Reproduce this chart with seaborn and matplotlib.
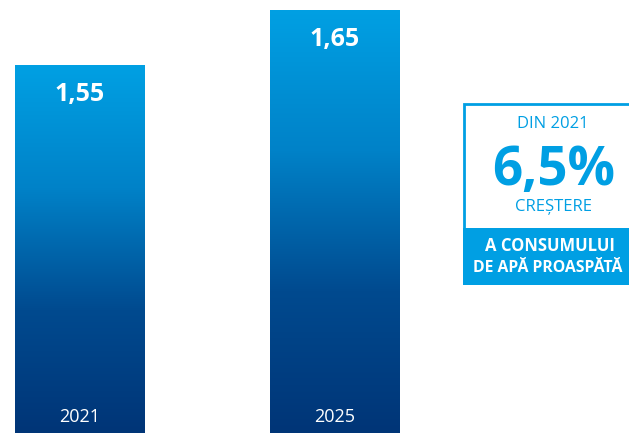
import numpy as np
import pandas as pd
import matplotlib
matplotlib.use("Agg")
import matplotlib.pyplot as plt
from matplotlib.colors import LinearSegmentedColormap
from matplotlib.patches import Rectangle
import seaborn as sns

# Datos
anios = ["2021", "2025"]
valores = [1.55, 1.65]
etiquetas = ["1,55", "1,65"]

df = pd.DataFrame({"anio": anios, "valor": valores})

sns.set_theme(style="white")
plt.rcParams["font.family"] = ["Open Sans", "DejaVu Sans"]

W, H = 629, 433
fig = plt.figure(figsize=(W / 100, H / 100), dpi=100)
ax = fig.add_axes([0, 0, 1, 1])

sns.barplot(data=df, x="anio", y="valor", width=0.505, color="#0070c0",
            ax=ax, saturation=1)

ax.set_xlim(-0.311, 2.151)
ax.set_ylim(0.882, 1.668)
ax.axis("off")

# Degradado vertical dentro de cada barra
cmap = LinearSegmentedColormap.from_list("grad", ["#003577", "#004a8f", "#0082c8", "#00a0e3"])
grad = np.linspace(0, 1, 256).reshape(-1, 1)
for p, lab, an in zip(ax.patches, etiquetas, anios):
    x0, w = p.get_x(), p.get_width()
    y0, h = p.get_y(), p.get_height()
    im = ax.imshow(grad, cmap=cmap, aspect="auto", origin="lower",
                   extent=[x0, x0 + w, ax.get_ylim()[0], y0 + h], zorder=2)
    im.set_clip_path(p)
    p.set_facecolor("none")
    p.set_edgecolor("none")
    xc = x0 + w / 2
    ax.text(xc, y0 + h - 0.054, lab, ha="center", va="center", color="white",
            fontsize=18, fontweight="bold", zorder=3)
    ax.text(xc, 0.911, an, ha="center", va="center", color="white",
            fontsize=13, zorder=3)

# Recuadro lateral
def fx(px):
    return px / W

def fy(py):
    return 1 - py / H

azul = "#009fe3"
fig.patches.append(Rectangle((fx(464), fy(229)), fx(180), (229 - 104) / H,
                             transform=fig.transFigure, facecolor="white",
                             edgecolor=azul, linewidth=2, zorder=1))
fig.patches.append(Rectangle((fx(463), fy(285)), fx(180), (285 - 228) / H,
                             transform=fig.transFigure, facecolor=azul,
                             edgecolor="none", zorder=2))

fig.text(fx(553), fy(124), "DIN 2021", ha="center", va="center", color=azul, fontsize=12)
fig.text(fx(554), fy(171), "6,5%", ha="center", va="center", color=azul,
         fontsize=38, fontweight="bold")
fig.text(fx(553), fy(207), "CREȘTERE", ha="center", va="center", color=azul, fontsize=12)
fig.text(fx(550), fy(246), "A CONSUMULUI", ha="center", va="center", color="white",
         fontsize=12, fontweight="bold")
fig.text(fx(548), fy(268), "DE APĂ PROASPĂTĂ", ha="center", va="center", color="white",
         fontsize=11.3, fontweight="bold")

fig.savefig("out.png", dpi=100)
